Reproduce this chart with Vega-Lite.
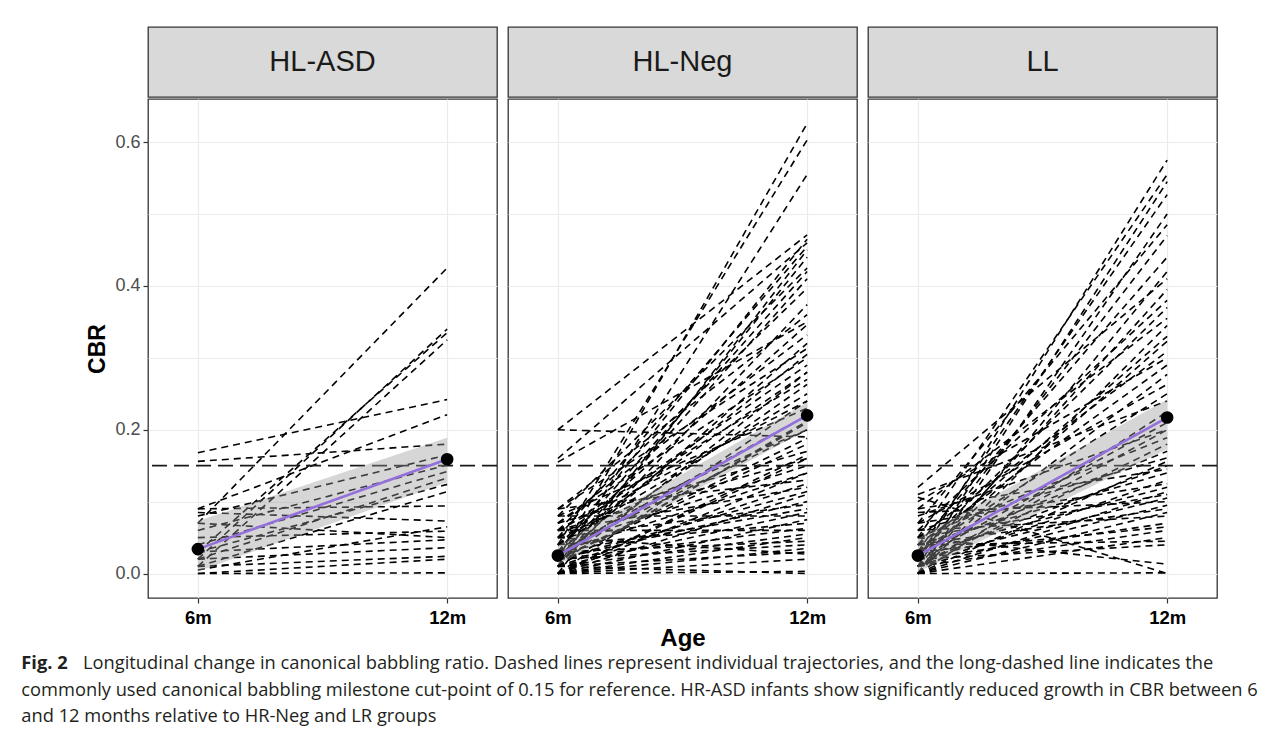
{
  "$schema": "https://vega.github.io/schema/vega-lite/v6.json",
  "padding": {"left": 21, "top": 26, "right": 5, "bottom": 5},
  "background": "#FFFFFF",
  "title": {
    "text": "Fig. 2",
    "subtitle": [
      "\u200b\u00a0\u00a0\u00a0\u00a0\u00a0\u00a0\u00a0\u00a0\u00a0\u00a0\u00a0\u00a0\u00a0Longitudinal change in canonical babbling ratio. Dashed lines represent individual trajectories, and the long-dashed line indicates the",
      "commonly used canonical babbling milestone cut-point of 0.15 for reference. HR-ASD infants show significantly reduced growth in CBR between 6",
      "and 12 months relative to HR-Neg and LR groups"
    ],
    "orient": "bottom",
    "anchor": "start",
    "frame": "bounds",
    "font": "Open Sans",
    "fontSize": 18.3,
    "fontWeight": "bold",
    "color": "#231F20",
    "subtitleFont": "Open Sans",
    "subtitleFontSize": 18.3,
    "subtitleFontWeight": "normal",
    "subtitleColor": "#231F20",
    "subtitleLineHeight": 26.5,
    "subtitlePadding": -18.3,
    "offset": 4,
    "dx": -65
  },
  "datasets": {
    "ind": [
      {"g":"HL-ASD","id":1,"m6":0.07,"m12":0.425},
      {"g":"HL-ASD","id":2,"m6":0.02,"m12":0.34},
      {"g":"HL-ASD","id":3,"m6":0.03,"m12":0.335},
      {"g":"HL-ASD","id":4,"m6":0.01,"m12":0.325},
      {"g":"HL-ASD","id":5,"m6":0.168,"m12":0.242},
      {"g":"HL-ASD","id":6,"m6":0.156,"m12":0.18},
      {"g":"HL-ASD","id":7,"m6":0.09,"m12":0.221},
      {"g":"HL-ASD","id":8,"m6":0.08,"m12":0.165},
      {"g":"HL-ASD","id":9,"m6":0.06,"m12":0.151},
      {"g":"HL-ASD","id":10,"m6":0.04,"m12":0.142},
      {"g":"HL-ASD","id":11,"m6":0.02,"m12":0.133},
      {"g":"HL-ASD","id":12,"m6":0.03,"m12":0.124},
      {"g":"HL-ASD","id":13,"m6":0.01,"m12":0.114},
      {"g":"HL-ASD","id":14,"m6":0.09,"m12":0.094},
      {"g":"HL-ASD","id":15,"m6":0.085,"m12":0.073},
      {"g":"HL-ASD","id":16,"m6":0.05,"m12":0.059},
      {"g":"HL-ASD","id":17,"m6":0.03,"m12":0.047},
      {"g":"HL-ASD","id":18,"m6":0.02,"m12":0.036},
      {"g":"HL-ASD","id":19,"m6":0.01,"m12":0.024},
      {"g":"HL-ASD","id":20,"m6":0.0,"m12":0.001},
      {"g":"HL-ASD","id":21,"m6":0.005,"m12":0.065},
      {"g":"HL-ASD","id":22,"m6":0.0,"m12":0.02},
      {"g":"HL-ASD","id":23,"m6":0.07,"m12":0.05},
      {"g":"HL-Neg","id":1,"m6":0.02,"m12":0.626},
      {"g":"HL-Neg","id":2,"m6":0.04,"m12":0.603},
      {"g":"HL-Neg","id":3,"m6":0.01,"m12":0.555},
      {"g":"HL-Neg","id":4,"m6":0.2,"m12":0.471},
      {"g":"HL-Neg","id":5,"m6":0.16,"m12":0.46},
      {"g":"HL-Neg","id":6,"m6":0.03,"m12":0.465},
      {"g":"HL-Neg","id":7,"m6":0.05,"m12":0.455},
      {"g":"HL-Neg","id":8,"m6":0.0,"m12":0.45},
      {"g":"HL-Neg","id":9,"m6":0.08,"m12":0.425},
      {"g":"HL-Neg","id":10,"m6":0.02,"m12":0.41},
      {"g":"HL-Neg","id":11,"m6":0.06,"m12":0.397},
      {"g":"HL-Neg","id":12,"m6":0.01,"m12":0.374},
      {"g":"HL-Neg","id":13,"m6":0.155,"m12":0.35},
      {"g":"HL-Neg","id":14,"m6":0.04,"m12":0.346},
      {"g":"HL-Neg","id":15,"m6":0.07,"m12":0.332},
      {"g":"HL-Neg","id":16,"m6":0.02,"m12":0.32},
      {"g":"HL-Neg","id":17,"m6":0.09,"m12":0.313},
      {"g":"HL-Neg","id":18,"m6":0.03,"m12":0.305},
      {"g":"HL-Neg","id":19,"m6":0.05,"m12":0.29},
      {"g":"HL-Neg","id":20,"m6":0.01,"m12":0.28},
      {"g":"HL-Neg","id":21,"m6":0.06,"m12":0.27},
      {"g":"HL-Neg","id":22,"m6":0.2,"m12":0.19},
      {"g":"HL-Neg","id":23,"m6":0.02,"m12":0.263},
      {"g":"HL-Neg","id":24,"m6":0.04,"m12":0.25},
      {"g":"HL-Neg","id":25,"m6":0.0,"m12":0.24},
      {"g":"HL-Neg","id":26,"m6":0.08,"m12":0.23},
      {"g":"HL-Neg","id":27,"m6":0.03,"m12":0.22},
      {"g":"HL-Neg","id":28,"m6":0.01,"m12":0.212},
      {"g":"HL-Neg","id":29,"m6":0.05,"m12":0.2},
      {"g":"HL-Neg","id":30,"m6":0.02,"m12":0.188},
      {"g":"HL-Neg","id":31,"m6":0.07,"m12":0.17},
      {"g":"HL-Neg","id":32,"m6":0.0,"m12":0.16},
      {"g":"HL-Neg","id":33,"m6":0.04,"m12":0.15},
      {"g":"HL-Neg","id":34,"m6":0.03,"m12":0.14},
      {"g":"HL-Neg","id":35,"m6":0.09,"m12":0.13},
      {"g":"HL-Neg","id":36,"m6":0.01,"m12":0.125},
      {"g":"HL-Neg","id":37,"m6":0.06,"m12":0.12},
      {"g":"HL-Neg","id":38,"m6":0.02,"m12":0.114},
      {"g":"HL-Neg","id":39,"m6":0.0,"m12":0.11},
      {"g":"HL-Neg","id":40,"m6":0.05,"m12":0.096},
      {"g":"HL-Neg","id":41,"m6":0.03,"m12":0.09},
      {"g":"HL-Neg","id":42,"m6":0.01,"m12":0.085},
      {"g":"HL-Neg","id":43,"m6":0.08,"m12":0.08},
      {"g":"HL-Neg","id":44,"m6":0.0,"m12":0.075},
      {"g":"HL-Neg","id":45,"m6":0.04,"m12":0.07},
      {"g":"HL-Neg","id":46,"m6":0.02,"m12":0.063},
      {"g":"HL-Neg","id":47,"m6":0.06,"m12":0.06},
      {"g":"HL-Neg","id":48,"m6":0.01,"m12":0.055},
      {"g":"HL-Neg","id":49,"m6":0.0,"m12":0.05},
      {"g":"HL-Neg","id":50,"m6":0.03,"m12":0.045},
      {"g":"HL-Neg","id":51,"m6":0.02,"m12":0.04},
      {"g":"HL-Neg","id":52,"m6":0.0,"m12":0.035},
      {"g":"HL-Neg","id":53,"m6":0.01,"m12":0.03},
      {"g":"HL-Neg","id":54,"m6":0.05,"m12":0.027},
      {"g":"HL-Neg","id":55,"m6":0.0,"m12":0.003},
      {"g":"HL-Neg","id":56,"m6":0.07,"m12":0.3},
      {"g":"HL-Neg","id":57,"m6":0.09,"m12":0.36},
      {"g":"HL-Neg","id":58,"m6":0.03,"m12":0.42},
      {"g":"HL-Neg","id":59,"m6":0.01,"m12":0.44},
      {"g":"HL-Neg","id":60,"m6":0.06,"m12":0.24},
      {"g":"HL-Neg","id":61,"m6":0.02,"m12":0.18},
      {"g":"HL-Neg","id":62,"m6":0.0,"m12":0.165},
      {"g":"HL-Neg","id":63,"m6":0.04,"m12":0.28},
      {"g":"HL-Neg","id":64,"m6":0.01,"m12":0.21},
      {"g":"HL-Neg","id":65,"m6":0.03,"m12":0.2},
      {"g":"HL-Neg","id":66,"m6":0.0,"m12":0.14},
      {"g":"HL-Neg","id":67,"m6":0.02,"m12":0.1},
      {"g":"HL-Neg","id":68,"m6":0.06,"m12":0.16},
      {"g":"HL-Neg","id":69,"m6":0.0,"m12":0.02},
      {"g":"HL-Neg","id":70,"m6":0.01,"m12":0.0},
      {"g":"LL","id":1,"m6":0.02,"m12":0.575},
      {"g":"LL","id":2,"m6":0.05,"m12":0.555},
      {"g":"LL","id":3,"m6":0.01,"m12":0.545},
      {"g":"LL","id":4,"m6":0.03,"m12":0.527},
      {"g":"LL","id":5,"m6":0.0,"m12":0.5},
      {"g":"LL","id":6,"m6":0.07,"m12":0.485},
      {"g":"LL","id":7,"m6":0.02,"m12":0.47},
      {"g":"LL","id":8,"m6":0.04,"m12":0.44},
      {"g":"LL","id":9,"m6":0.12,"m12":0.41},
      {"g":"LL","id":10,"m6":0.01,"m12":0.395},
      {"g":"LL","id":11,"m6":0.06,"m12":0.38},
      {"g":"LL","id":12,"m6":0.03,"m12":0.37},
      {"g":"LL","id":13,"m6":0.09,"m12":0.355},
      {"g":"LL","id":14,"m6":0.0,"m12":0.345},
      {"g":"LL","id":15,"m6":0.02,"m12":0.323},
      {"g":"LL","id":16,"m6":0.05,"m12":0.309},
      {"g":"LL","id":17,"m6":0.1,"m12":0.3},
      {"g":"LL","id":18,"m6":0.04,"m12":0.29},
      {"g":"LL","id":19,"m6":0.01,"m12":0.277},
      {"g":"LL","id":20,"m6":0.07,"m12":0.263},
      {"g":"LL","id":21,"m6":0.03,"m12":0.25},
      {"g":"LL","id":22,"m6":0.11,"m12":0.24},
      {"g":"LL","id":23,"m6":0.0,"m12":0.225},
      {"g":"LL","id":24,"m6":0.02,"m12":0.21},
      {"g":"LL","id":25,"m6":0.08,"m12":0.2},
      {"g":"LL","id":26,"m6":0.05,"m12":0.189},
      {"g":"LL","id":27,"m6":0.01,"m12":0.18},
      {"g":"LL","id":28,"m6":0.03,"m12":0.17},
      {"g":"LL","id":29,"m6":0.06,"m12":0.161},
      {"g":"LL","id":30,"m6":0.0,"m12":0.156},
      {"g":"LL","id":31,"m6":0.02,"m12":0.15},
      {"g":"LL","id":32,"m6":0.09,"m12":0.145},
      {"g":"LL","id":33,"m6":0.04,"m12":0.14},
      {"g":"LL","id":34,"m6":0.01,"m12":0.13},
      {"g":"LL","id":35,"m6":0.07,"m12":0.125},
      {"g":"LL","id":36,"m6":0.03,"m12":0.12},
      {"g":"LL","id":37,"m6":0.0,"m12":0.114},
      {"g":"LL","id":38,"m6":0.05,"m12":0.11},
      {"g":"LL","id":39,"m6":0.02,"m12":0.105},
      {"g":"LL","id":40,"m6":0.085,"m12":0.1},
      {"g":"LL","id":41,"m6":0.01,"m12":0.095},
      {"g":"LL","id":42,"m6":0.04,"m12":0.09},
      {"g":"LL","id":43,"m6":0.0,"m12":0.085},
      {"g":"LL","id":44,"m6":0.06,"m12":0.08},
      {"g":"LL","id":45,"m6":0.02,"m12":0.07},
      {"g":"LL","id":46,"m6":0.03,"m12":0.065},
      {"g":"LL","id":47,"m6":0.01,"m12":0.06},
      {"g":"LL","id":48,"m6":0.0,"m12":0.05},
      {"g":"LL","id":49,"m6":0.04,"m12":0.045},
      {"g":"LL","id":50,"m6":0.02,"m12":0.04},
      {"g":"LL","id":51,"m6":0.106,"m12":0.0},
      {"g":"LL","id":52,"m6":0.05,"m12":0.013},
      {"g":"LL","id":53,"m6":0.0,"m12":0.001},
      {"g":"LL","id":54,"m6":0.01,"m12":0.2},
      {"g":"LL","id":55,"m6":0.03,"m12":0.33},
      {"g":"LL","id":56,"m6":0.0,"m12":0.42}
    ],
    "fit": [
      {"g":"HL-ASD","age":6,"mean":0.034,"lo":0.003,"hi":0.073},
      {"g":"HL-ASD","age":12,"mean":0.159,"lo":0.127,"hi":0.189},
      {"g":"HL-Neg","age":6,"mean":0.025,"lo":0.012,"hi":0.039},
      {"g":"HL-Neg","age":12,"mean":0.220,"lo":0.200,"hi":0.238},
      {"g":"LL","age":6,"mean":0.025,"lo":0.002,"hi":0.049},
      {"g":"LL","age":12,"mean":0.217,"lo":0.173,"hi":0.242}
    ],
    "cut": [{"cbr": 0.15}]
  },
  "spacing": 7,
  "hconcat": [
    {
      "spacing": 0,
      "vconcat": [
        {
          "width": 349, "height": 70,
          "data": {"values": [{"g": "HL-ASD"}]},
          "view": {"fill": "#D9D9D9", "stroke": "#333333", "strokeWidth": 1.3},
          "mark": {"type": "text", "fontSize": 29, "color": "#1A1A1A"},
          "encoding": {"text": {"field": "g"}}
        },
        {
          "width": 349, "height": 499,
          "layer": [
            {
              "data": {"name": "ind"},
              "transform": [{"filter": "datum.g == 'HL-ASD'"}],
              "mark": {"type": "rule", "strokeDash": [7, 5], "strokeWidth": 1.6, "color": "#000000"},
              "encoding": {
                "x": {"datum": 6, "type": "quantitative", "scale": {"domain": [4.8, 13.2], "nice": false, "zero": false},
                      "axis": {"title": null, "values": [6, 12], "labelExpr": "datum.value + 'm'", "labelFontWeight": "bold", "labelFontSize": 18.5, "labelColor": "#000000", "labelPadding": 5}},
                "x2": {"datum": 12},
                "y": {"field": "m6", "type": "quantitative", "scale": {"domain": [-0.034, 0.66], "nice": false, "zero": false},
                      "axis": {"title": "CBR", "titleFontSize": 23, "titleFontWeight": "bold", "titleColor": "#000000", "titlePadding": 5,
                               "values": [0, 0.1, 0.2, 0.3, 0.4, 0.5, 0.6],
                               "labelExpr": "round(datum.value*10) % 2 == 0 ? format(datum.value, '.1f') : ''",
                               "labelFontSize": 18, "labelColor": "#4D4D4D", "labelPadding": 3,
                               "tickOpacity": {"condition": {"test": "round(datum.value*10) % 2 == 1", "value": 0}, "value": 1}}},
                "y2": {"field": "m12"}
              }
            },
            {
              "data": {"name": "cut"},
              "mark": {"type": "rule", "strokeDash": [15, 7], "strokeWidth": 1.8, "color": "#1A1A1A"},
              "encoding": {"y": {"field": "cbr", "type": "quantitative"}}
            },
            {
              "data": {"name": "fit"},
              "transform": [{"filter": "datum.g == 'HL-ASD'"}],
              "mark": {"type": "area", "color": "#999999", "opacity": 0.4},
              "encoding": {"x": {"field": "age", "type": "quantitative"}, "y": {"field": "lo", "type": "quantitative"}, "y2": {"field": "hi"}}
            },
            {
              "data": {"name": "fit"},
              "transform": [{"filter": "datum.g == 'HL-ASD'"}],
              "mark": {"type": "line", "color": "#9370DB", "strokeWidth": 2.6},
              "encoding": {"x": {"field": "age", "type": "quantitative"}, "y": {"field": "mean", "type": "quantitative"}}
            },
            {
              "data": {"name": "fit"},
              "transform": [{"filter": "datum.g == 'HL-ASD'"}],
              "mark": {"type": "point", "filled": true, "color": "#000000", "size": 160, "opacity": 1},
              "encoding": {"x": {"field": "age", "type": "quantitative"}, "y": {"field": "mean", "type": "quantitative"}}
            }
          ]
        }
      ]
    },
    {
      "spacing": 0,
      "vconcat": [
        {
          "width": 349, "height": 70,
          "data": {"values": [{"g": "HL-Neg"}]},
          "view": {"fill": "#D9D9D9", "stroke": "#333333", "strokeWidth": 1.3},
          "mark": {"type": "text", "fontSize": 29, "color": "#1A1A1A"},
          "encoding": {"text": {"field": "g"}}
        },
        {
          "width": 349, "height": 499,
          "layer": [
            {
              "data": {"name": "ind"},
              "transform": [{"filter": "datum.g == 'HL-Neg'"}],
              "mark": {"type": "rule", "strokeDash": [7, 5], "strokeWidth": 1.6, "color": "#000000"},
              "encoding": {
                "x": {"datum": 6, "type": "quantitative", "scale": {"domain": [4.8, 13.2], "nice": false, "zero": false},
                      "axis": {"title": "Age", "titleFontSize": 24, "titleFontWeight": "bold", "titleColor": "#000000", "titlePadding": 0,
                               "values": [6, 12], "labelExpr": "datum.value + 'm'", "labelFontWeight": "bold", "labelFontSize": 18.5, "labelColor": "#000000", "labelPadding": 5}},
                "x2": {"datum": 12},
                "y": {"field": "m6", "type": "quantitative", "scale": {"domain": [-0.034, 0.66], "nice": false, "zero": false},
                      "axis": {"title": null, "labels": false, "ticks": false, "values": [0, 0.1, 0.2, 0.3, 0.4, 0.5, 0.6]}},
                "y2": {"field": "m12"}
              }
            },
            {
              "data": {"name": "cut"},
              "mark": {"type": "rule", "strokeDash": [15, 7], "strokeWidth": 1.8, "color": "#1A1A1A"},
              "encoding": {"y": {"field": "cbr", "type": "quantitative"}}
            },
            {
              "data": {"name": "fit"},
              "transform": [{"filter": "datum.g == 'HL-Neg'"}],
              "mark": {"type": "area", "color": "#999999", "opacity": 0.4},
              "encoding": {"x": {"field": "age", "type": "quantitative"}, "y": {"field": "lo", "type": "quantitative"}, "y2": {"field": "hi"}}
            },
            {
              "data": {"name": "fit"},
              "transform": [{"filter": "datum.g == 'HL-Neg'"}],
              "mark": {"type": "line", "color": "#9370DB", "strokeWidth": 2.6},
              "encoding": {"x": {"field": "age", "type": "quantitative"}, "y": {"field": "mean", "type": "quantitative"}}
            },
            {
              "data": {"name": "fit"},
              "transform": [{"filter": "datum.g == 'HL-Neg'"}],
              "mark": {"type": "point", "filled": true, "color": "#000000", "size": 160, "opacity": 1},
              "encoding": {"x": {"field": "age", "type": "quantitative"}, "y": {"field": "mean", "type": "quantitative"}}
            }
          ]
        }
      ]
    },
    {
      "spacing": 0,
      "vconcat": [
        {
          "width": 349, "height": 70,
          "data": {"values": [{"g": "LL"}]},
          "view": {"fill": "#D9D9D9", "stroke": "#333333", "strokeWidth": 1.3},
          "mark": {"type": "text", "fontSize": 29, "color": "#1A1A1A"},
          "encoding": {"text": {"field": "g"}}
        },
        {
          "width": 349, "height": 499,
          "layer": [
            {
              "data": {"name": "ind"},
              "transform": [{"filter": "datum.g == 'LL'"}],
              "mark": {"type": "rule", "strokeDash": [7, 5], "strokeWidth": 1.6, "color": "#000000"},
              "encoding": {
                "x": {"datum": 6, "type": "quantitative", "scale": {"domain": [4.8, 13.2], "nice": false, "zero": false},
                      "axis": {"title": null, "values": [6, 12], "labelExpr": "datum.value + 'm'", "labelFontWeight": "bold", "labelFontSize": 18.5, "labelColor": "#000000", "labelPadding": 5}},
                "x2": {"datum": 12},
                "y": {"field": "m6", "type": "quantitative", "scale": {"domain": [-0.034, 0.66], "nice": false, "zero": false},
                      "axis": {"title": null, "labels": false, "ticks": false, "values": [0, 0.1, 0.2, 0.3, 0.4, 0.5, 0.6]}},
                "y2": {"field": "m12"}
              }
            },
            {
              "data": {"name": "cut"},
              "mark": {"type": "rule", "strokeDash": [15, 7], "strokeWidth": 1.8, "color": "#1A1A1A"},
              "encoding": {"y": {"field": "cbr", "type": "quantitative"}}
            },
            {
              "data": {"name": "fit"},
              "transform": [{"filter": "datum.g == 'LL'"}],
              "mark": {"type": "area", "color": "#999999", "opacity": 0.4},
              "encoding": {"x": {"field": "age", "type": "quantitative"}, "y": {"field": "lo", "type": "quantitative"}, "y2": {"field": "hi"}}
            },
            {
              "data": {"name": "fit"},
              "transform": [{"filter": "datum.g == 'LL'"}],
              "mark": {"type": "line", "color": "#9370DB", "strokeWidth": 2.6},
              "encoding": {"x": {"field": "age", "type": "quantitative"}, "y": {"field": "mean", "type": "quantitative"}}
            },
            {
              "data": {"name": "fit"},
              "transform": [{"filter": "datum.g == 'LL'"}],
              "mark": {"type": "point", "filled": true, "color": "#000000", "size": 160, "opacity": 1},
              "encoding": {"x": {"field": "age", "type": "quantitative"}, "y": {"field": "mean", "type": "quantitative"}}
            }
          ]
        }
      ]
    }
  ],
  "config": {
    "font": "Liberation Sans",
    "view": {"stroke": "#333333", "strokeWidth": 1.3},
    "axis": {"gridColor": "#EBEBEB", "gridWidth": 1.2, "grid": true, "domain": false, "tickColor": "#333333", "tickSize": 5, "tickWidth": 1.2}
  }
}
